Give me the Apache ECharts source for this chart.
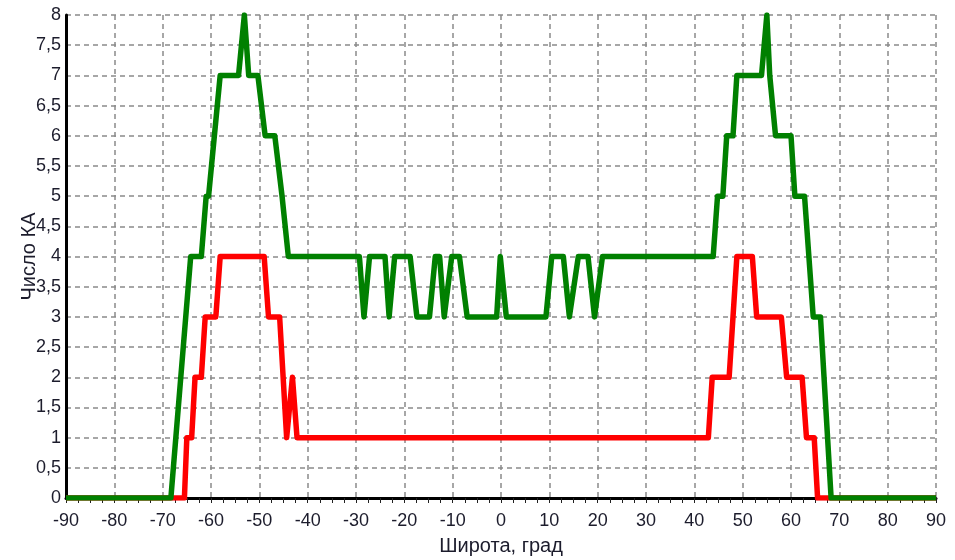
<!DOCTYPE html>
<html>
<head>
<meta charset="utf-8">
<script src="https://cdn.jsdelivr.net/npm/echarts@6/dist/echarts.min.js"></script>
<style>
  html, body { margin: 0; padding: 0; background: #fff; }
  #chart { width: 955px; height: 560px; }
</style>
</head>
<body>
<div id="chart"></div>
<script>
// Latitude (deg) / number of spacecraft, breakpoints of each profile
const greenProfile = [
  [-90, 0], [-68.3, 0], [-64.2, 4], [-62, 4], [-61, 5], [-60.5, 5], [-58.1, 7],
  [-54.3, 7], [-53.1, 8], [-52.2, 7], [-50.3, 7], [-48.8, 6], [-46.8, 6],
  [-45.3, 5], [-45, 5], [-44, 4],
  [-29.3, 4], [-28.35, 3], [-28.0, 3], [-27.2, 4],
  [-24, 4], [-23.15, 3], [-22.85, 3], [-22, 4],
  [-18.8, 4], [-17.4, 3], [-14.8, 3], [-13.6, 4], [-12.7, 4], [-11.75, 3],
  [-11.45, 3], [-10.2, 4], [-8.6, 4], [-7, 3],
  [-0.9, 3], [-0.15, 4], [0.15, 4], [1.1, 3], [9.3, 3], [10.5, 4], [12.9, 4],
  [14.15, 3], [14.45, 3], [16, 4], [18, 4], [19.35, 3], [19.65, 3], [21, 4],
  [43.9, 4], [44.8, 5], [45.9, 5], [46.7, 6], [48, 6], [48.8, 7], [53.9, 7],
  [55, 8], [55.6, 7], [56.8, 6], [60, 6], [60.8, 5], [62.8, 5], [64.6, 3],
  [66.1, 3], [68.3, 0], [90, 0]
];

const redProfile = [
  [-90, 0], [-65.5, 0], [-65, 1], [-64, 1], [-63.3, 2], [-62, 2], [-61.2, 3],
  [-59, 3], [-58.1, 4], [-49, 4], [-48.1, 3], [-45.8, 3], [-44.35, 1],
  [-44.05, 1], [-43.15, 2], [-42.85, 2], [-42.2, 1],
  [42.9, 1], [43.7, 2], [47.2, 2], [48.8, 4], [52, 4], [52.9, 3], [58, 3],
  [59.1, 2], [62.3, 2], [63.2, 1], [64.8, 1], [65.5, 0], [90, 0]
];

const xRange = [-90, 90];
const xStep = 10;
const yRange = [0, 8];
const yStep = 0.5;

const xTitle = 'Широта, град';
const yTitle = 'Число КА';

const textColor = '#1c1c2c';
const gridLine = { show: true, lineStyle: { color: '#8a8a8a', width: 1.5, type: [5, 4] } };

const chart = echarts.init(document.getElementById('chart'), null, { renderer: 'canvas' });

chart.setOption({
  animation: false,
  backgroundColor: '#ffffff',
  grid: {
    left: 66, right: 19, top: 15, bottom: 62,
    containLabel: false, outerBoundsMode: 'none'
  },
  xAxis: {
    type: 'value',
    min: xRange[0], max: xRange[1], interval: xStep,
    name: xTitle,
    nameLocation: 'middle',
    nameGap: 38,
    nameMoveOverlap: false,
    nameTextStyle: { fontFamily: 'Liberation Sans', fontSize: 20, color: textColor },
    axisLine: { show: true, onZero: false, lineStyle: { color: '#000', width: 3 } },
    axisTick: { show: true, length: 5, lineStyle: { color: '#222', width: 1 } },
    minorTick: { show: true, splitNumber: 4, length: 5, lineStyle: { color: '#222', width: 1 } },
    axisLabel: {
      margin: 14, fontFamily: 'Liberation Sans', fontSize: 18, color: textColor,
      formatter: v => String(v)
    },
    splitLine: gridLine
  },
  yAxis: {
    type: 'value',
    min: yRange[0], max: yRange[1], interval: yStep,
    name: yTitle,
    nameLocation: 'middle',
    nameRotate: 90,
    nameGap: 27,
    nameMoveOverlap: false,
    nameTextStyle: { fontFamily: 'Liberation Sans', fontSize: 20, color: textColor },
    axisLine: { show: true, onZero: false, lineStyle: { color: '#000', width: 3 } },
    axisTick: { show: false },
    axisLabel: {
      margin: 5, fontFamily: 'Liberation Sans', fontSize: 18, color: textColor,
      formatter: v => String(v).replace('.', ',')
    },
    splitLine: gridLine
  },
  series: [
    {
      type: 'line', data: redProfile, showSymbol: false, z: 3,
      lineStyle: { color: '#ff0000', width: 5.5, join: 'round' }
    },
    {
      type: 'line', data: greenProfile, showSymbol: false, z: 4,
      lineStyle: { color: '#008000', width: 5.5, join: 'round' }
    }
  ]
});
</script>
</body>
</html>
